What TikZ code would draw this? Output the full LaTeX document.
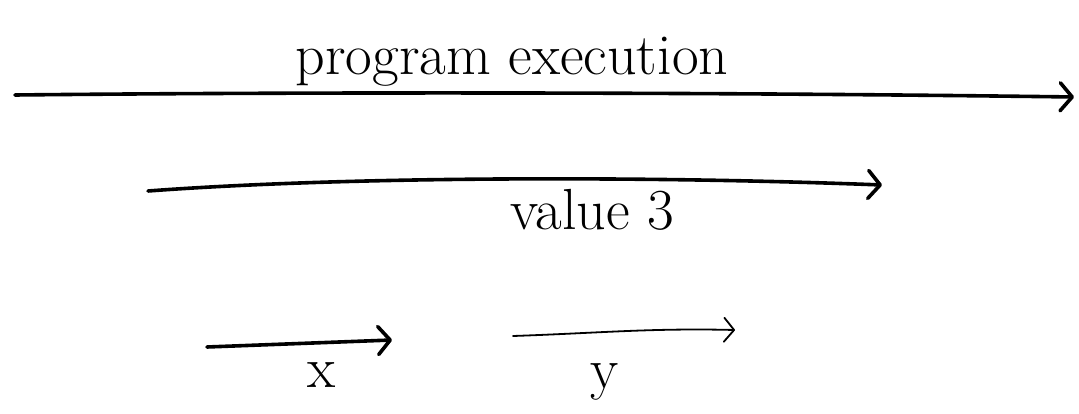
\documentclass[tikz,border=0pt]{standalone}
\usepackage{tikz}
\usetikzlibrary{arrows.meta, positioning}

\begin{document}
\begin{tikzpicture}[x=1pt, y=-1pt]
\tikzstyle{lbl} = [font=\fontsize{58}{62}\selectfont, inner sep=0pt]
\tikzstyle{bold} = [draw, line width=3.6pt, line cap=round, -{Straight Barb[length=12pt, width=28pt, line width=3.6pt, round]}]
\tikzstyle{thin} = [draw, line width=1.8pt, line cap=round, -{Straight Barb[length=10pt, width=24pt, line width=1.8pt, round]}]

\useasboundingbox (0,0) rectangle (1079,414);

\coordinate (execstart) at (15,95);
\coordinate (execend) at (1074,97);
\coordinate (valstart) at (148,191);
\coordinate (valend) at (882,185);
\coordinate (xstart) at (207,347);
\coordinate (xend) at (392,340);
\coordinate (ystart) at (513,336);
\coordinate (yend) at (735,330);

\node [lbl] (exec) at (512,62) {program execution};
\node [lbl] (val) at (592,210) {value 3};
\node [lbl] (xlbl) at (322,375) {x};
\node [lbl] (ylbl) at (605,382) {y};

\draw [bold] (execstart) .. controls (300,92) and (700,92) .. (execend);
\draw [bold] (valstart) .. controls (350,176) and (650,176) .. (valend);
\draw [bold] (xstart) -- (xend);
\draw [thin] (ystart) .. controls (600,333) and (650,328) .. (yend);
\end{tikzpicture}
\end{document}
